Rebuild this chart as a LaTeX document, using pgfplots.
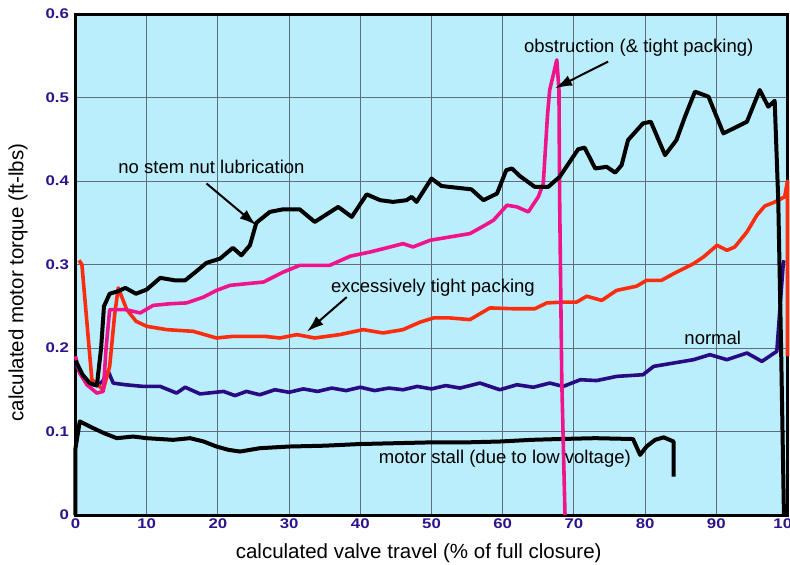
\documentclass[border=0pt]{standalone}
\usepackage{pgfplots}
\pgfplotsset{compat=1.18}
\usepackage{fontspec}
\setmainfont{Liberation Sans}
\newfontfamily\tickfont{Liberation Sans}[FakeStretch=1.2]
\usetikzlibrary{arrows.meta}
\definecolor{bgc}{RGB}{187,238,252}
\definecolor{gridc}{RGB}{95,110,120}
\definecolor{tickc}{RGB}{45,20,140}
\definecolor{pinkc}{RGB}{240,20,140}
\definecolor{redc}{RGB}{250,45,15}
\definecolor{navyc}{RGB}{40,10,130}
\newcommand{\annfont}{\fontsize{18.5}{22}\selectfont}
\begin{document}
\begin{tikzpicture}
\begin{axis}[
  at={(0,0)}, anchor=south west,
  scale only axis, width=712pt, height=501pt,
  xmin=0, xmax=100, ymin=0, ymax=0.6,
  clip=false,
  axis background/.style={fill=bgc},
  axis line style={line width=3pt, black},
  grid=major,
  major grid style={line width=0.9pt, color=gridc},
  major tick length=0pt,
  xtick={0,10,20,30,40,50,60,70,80,90,100},
  xticklabels={0,10,20,30,40,50,60,70,80,90,100},
  ytick={0,0.1,0.2,0.3,0.4,0.5,0.6},
  yticklabels={0,0.1,0.2,0.3,0.4,0.5,0.6},
  ticklabel style={font=\tickfont\bfseries\fontsize{14}{14}\selectfont, text=tickc},
  yticklabel style={xshift=-3pt},
  xlabel={calculated valve travel (\% of full closure)},
  ylabel={calculated motor torque (ft-lbs)},
  every axis x label/.style={at={(axis description cs:0.482,0)}, anchor=center, yshift=-38pt, font=\fontsize{20.5}{24}\selectfont},
  every axis y label/.style={at={(axis description cs:-0.0808,0.464)}, anchor=center, rotate=90, font=\fontsize{20.5}{24}\selectfont},
]
% motor stall
\addplot[black, line width=4pt, line join=round] coordinates {
(0,0) (0,0.08) (0.6,0.112) (2.5,0.104) (4,0.098) (5.8,0.092) (8.1,0.094) (10,0.092) (13.7,0.09) (16.1,0.092) (18,0.088) (19.8,0.082) (21.5,0.078) (23.1,0.076) (25.9,0.08) (30,0.082) (35,0.083) (40,0.085) (45,0.086) (50,0.087) (55,0.087) (59.6,0.088) (64,0.09) (68,0.091) (73,0.092) (78.3,0.091) (79.3,0.072) (80.2,0.082) (81.4,0.09) (82.6,0.093) (84,0.088) (84,0.046)};
% normal
\addplot[navyc, line width=3.6pt, line join=round] coordinates {
(0,0.18) (1,0.165) (2,0.157) (3,0.155) (3.8,0.16) (4.6,0.172) (5.3,0.158) (7,0.156) (9.5,0.154) (11.9,0.154) (14.2,0.146) (15.4,0.153) (17.5,0.145) (20.8,0.148) (22.4,0.143) (24,0.148) (25.9,0.144) (28,0.15) (30,0.147) (32,0.151) (34,0.148) (36,0.152) (38,0.149) (40,0.153) (42,0.149) (44,0.152) (46,0.15) (48,0.154) (50,0.151) (52,0.155) (54,0.152) (56.8,0.158) (59.6,0.15) (62,0.156) (64.3,0.153) (66.6,0.158) (68.5,0.154) (70.9,0.162) (73.2,0.161) (76,0.166) (79.7,0.168) (81.2,0.178) (84,0.182) (86.8,0.186) (89.1,0.192) (91.5,0.186) (94.3,0.194) (96.4,0.184) (98.5,0.196) (99.4,0.301) (99.5,0.305)};
% excessively tight packing
\addplot[redc, line width=3.6pt, line join=round] coordinates {
(0.5,0.305) (0.9,0.3) (2.3,0.162) (3.9,0.15) (4.8,0.178) (5.5,0.24) (6,0.272) (7.2,0.246) (8.5,0.232) (10,0.226) (12.8,0.222) (16.5,0.22) (19.8,0.212) (22.2,0.214) (24.5,0.214) (26.5,0.214) (28.7,0.212) (31.1,0.216) (33.6,0.212) (37.1,0.216) (40.4,0.222) (43.2,0.218) (46,0.222) (48.4,0.231) (50.3,0.236) (52.6,0.236) (55.4,0.234) (58.2,0.248) (61.5,0.247) (64.5,0.247) (66.2,0.254) (68.5,0.255) (70.4,0.255) (71.8,0.262) (73.9,0.257) (76,0.269) (78.8,0.274) (80.2,0.281) (82.3,0.281) (84,0.289) (86.8,0.301) (88.2,0.309) (90.1,0.323) (91.5,0.317) (92.6,0.321) (94.3,0.339) (95.7,0.359) (96.8,0.37) (98,0.374) (99.6,0.381) (100,0.4) (100,0.19)};
% obstruction
\addplot[pinkc, line width=3.6pt, line join=round] coordinates {
(0,0.19) (0.6,0.17) (1.6,0.156) (3,0.146) (3.9,0.148) (4.3,0.2) (4.8,0.246) (7,0.246) (9.1,0.242) (10.9,0.251) (13.3,0.253) (15.6,0.254) (18,0.261) (19.8,0.269) (21.7,0.275) (24,0.277) (26.4,0.279) (29.2,0.291) (31.5,0.299) (35.7,0.299) (38.6,0.31) (41.4,0.315) (44.2,0.321) (46,0.325) (47.4,0.321) (49.8,0.329) (52.6,0.333) (55.4,0.337) (57.3,0.346) (58.7,0.353) (60.6,0.371) (62,0.369) (63.6,0.363) (65,0.381) (65.7,0.397) (66.3,0.48) (66.6,0.509) (67.6,0.545) (67.9,0.509) (68,0.377) (68.3,0.16) (68.75,0)};
% no stem nut lubrication
\addplot[black, line width=4pt, line join=round] coordinates {
(0,0.185) (1,0.168) (2,0.158) (3,0.155) (3.6,0.2) (4,0.25) (4.8,0.265) (6,0.268) (7,0.272) (8.5,0.265) (10,0.27) (11.9,0.284) (14,0.281) (15.4,0.281) (17,0.292) (18.4,0.302) (20.3,0.307) (22.1,0.32) (23.3,0.311) (24.5,0.323) (25.4,0.35) (27.3,0.363) (29.1,0.366) (31.5,0.366) (33.6,0.351) (36.9,0.369) (38.8,0.357) (40.9,0.384) (42.8,0.377) (44.6,0.375) (46.5,0.377) (47.2,0.381) (47.9,0.375) (50,0.403) (51.4,0.394) (53.5,0.392) (55.6,0.39) (57.3,0.377) (59.2,0.385) (60.5,0.413) (61.3,0.415) (62.4,0.406) (64.5,0.393) (66.4,0.393) (68,0.405) (70.6,0.438) (71.5,0.44) (73,0.415) (74.6,0.417) (75.8,0.41) (76.7,0.419) (77.6,0.449) (79.7,0.469) (80.8,0.471) (82.8,0.431) (84.4,0.449) (85.6,0.477) (87,0.507) (88.9,0.501) (91,0.457) (94.3,0.471) (96.1,0.509) (97.3,0.489) (98.2,0.496) (98.7,0.377) (99.1,0.2) (99.5,0)};
% annotations
\node[font=\annfont] at (axis cs:19.1,0.4168) {no stem nut lubrication};
\draw[line width=2pt,-{Latex[length=17pt,width=11pt]}] (axis cs:18.4,0.397) -- (axis cs:25.4,0.347);
\node[font=\annfont] at (axis cs:50.2,0.272) {excessively tight packing};
\draw[line width=2pt,-{Latex[length=17pt,width=11pt]}] (axis cs:38.1,0.261) -- (axis cs:32.5,0.2195);
\node[font=\annfont] at (axis cs:79.1,0.560) {obstruction (\& tight packing)};
\draw[line width=2pt,-{Latex[length=17pt,width=11pt]}] (axis cs:74.8,0.543) -- (axis cs:67.35,0.511);
\node[font=\annfont] at (axis cs:89.5,0.212) {normal};
\node[font=\annfont] at (axis cs:60.3,0.068) {motor stall (due to low voltage)};
\end{axis}
\pgfresetboundingbox
\path (-75.5pt,-50pt) rectangle (714.5pt,515pt);
\end{tikzpicture}
\end{document}
